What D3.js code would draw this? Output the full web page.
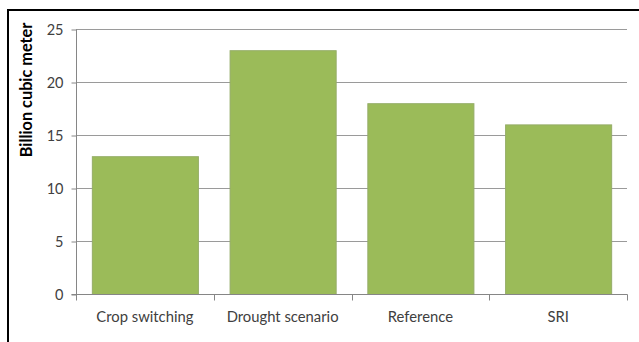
<!DOCTYPE html>
<html>
<head>
<meta charset="utf-8">
<script src="https://cdn.jsdelivr.net/npm/d3@7"></script>
<style>
  html, body { margin: 0; padding: 0; background: #fff; }
  svg { display: block; }
</style>
</head>
<body>
<div id="chart"></div>
<script>
// Water use per scenario (billion cubic meters)
const categories = ["Crop switching", "Drought scenario", "Reference", "SRI"];
const values = [13, 23, 18, 16];
const yTicks = [0, 5, 10, 15, 20, 25];
const yLabel = "Billion cubic meter";

const W = 639, H = 342;
const plot = { left: 76, right: 627, top: 29, bottom: 294 };

const svg = d3.select("#chart").append("svg")
  .attr("width", W).attr("height", H);

// outer chart frame
svg.append("rect")
  .attr("x", 8).attr("y", 10)
  .attr("width", W + 10).attr("height", H + 10)
  .attr("fill", "none").attr("stroke", "#000").attr("stroke-width", 2);

const x = d3.scaleBand().domain(categories)
  .range([plot.left, plot.right]).paddingInner(0.23).paddingOuter(0.115);
const xCat = d3.scaleBand().domain(categories).range([plot.left, plot.right]);
const y = d3.scaleLinear().domain([0, 25]).range([plot.bottom, plot.top]);

const font = "Lato, 'Open Sans', sans-serif";

// horizontal gridlines
svg.append("g").selectAll("line")
  .data(yTicks.filter(t => t > 0))
  .join("line")
  .attr("x1", plot.left).attr("x2", plot.right)
  .attr("y1", d => Math.round(y(d)) + 0.5).attr("y2", d => Math.round(y(d)) + 0.5)
  .attr("stroke", "#9a9a9a").attr("stroke-width", 1);

// bars
svg.append("g").selectAll("rect")
  .data(values)
  .join("rect")
  .attr("x", (d, i) => x(categories[i]) + 0.5)
  .attr("width", x.bandwidth())
  .attr("y", d => y(d) + 0.5)
  .attr("height", d => y(0) - y(d))
  .attr("fill", "#9bbb59")
  .attr("stroke", "#95ad68").attr("stroke-width", 1);

// y axis
const yAxis = d3.axisLeft(y).tickValues(yTicks).tickSize(5).tickPadding(8);
const gy = svg.append("g")
  .attr("transform", `translate(${plot.left + 0.5},0.5)`)
  .call(yAxis);
gy.select(".domain").attr("stroke", "#868686").attr("d", `M-5,${y(0)}H0V${y(25)}`);
gy.selectAll(".tick line").attr("stroke", "#868686");
gy.selectAll(".tick text")
  .attr("font-family", font).attr("font-size", 14.5).attr("fill", "#404040");

// x axis baseline with category separators
const gx = svg.append("g").attr("transform", `translate(0,${plot.bottom + 0.5})`);
gx.append("line")
  .attr("x1", plot.left).attr("x2", plot.right + 0.5)
  .attr("stroke", "#868686");
gx.selectAll("line.sep")
  .data(categories.map(c => xCat(c)).concat([plot.right]))
  .join("line").attr("class", "sep")
  .attr("x1", d => Math.round(d) + 0.5).attr("x2", d => Math.round(d) + 0.5)
  .attr("y1", 0).attr("y2", 6)
  .attr("stroke", "#868686");
gx.selectAll("text")
  .data(categories)
  .join("text")
  .attr("x", d => xCat(d) + xCat.bandwidth() / 2)
  .attr("y", 27)
  .attr("text-anchor", "middle")
  .attr("font-family", font).attr("font-size", 14.8).attr("fill", "#404040")
  .text(d => d);

// y axis title
svg.append("text")
  .attr("transform", `translate(32,90) rotate(-90)`)
  .attr("text-anchor", "middle")
  .attr("font-family", font).attr("font-weight", "bold")
  .attr("font-size", 16.3).attr("fill", "#000")
  .text(yLabel);
</script>
</body>
</html>
